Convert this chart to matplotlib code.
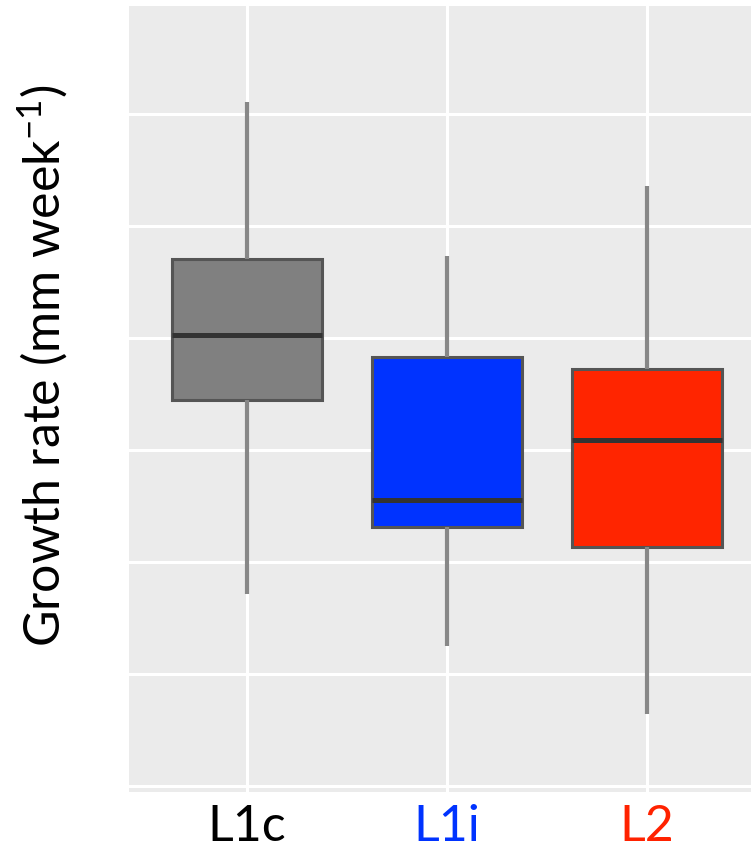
import matplotlib.pyplot as plt

plt.rcParams["font.family"] = ["Lato", "DejaVu Sans"]
plt.rcParams["mathtext.fontset"] = "custom"
plt.rcParams["mathtext.rm"] = "Lato"
plt.rcParams["mathtext.it"] = "Lato:italic"

# Summary statistics per lineage (growth rate, mm per week)
lineages = ["L1c", "L1i", "L2"]
whisker_high = [6.10, 4.73, 5.35]
upper_quartile = [4.70, 3.83, 3.72]
medians = [4.02, 2.55, 3.09]
lower_quartile = [3.44, 2.31, 2.13]
whisker_low = [1.71, 1.25, 0.64]

fill_colors = ["#808080", "#0033ff", "#ff2500"]
label_colors = ["#000000", "#0033ff", "#ff2200"]

stats = []
for name, hi, q3, med, q1, lo in zip(lineages, whisker_high, upper_quartile,
                                     medians, lower_quartile, whisker_low):
    stats.append({"label": name, "whishi": hi, "q3": q3, "med": med,
                  "q1": q1, "whislo": lo, "fliers": []})

fig = plt.figure(figsize=(7.51, 8.53), dpi=100)
ax = fig.add_axes([129 / 751, 1 - 793 / 853, 1 - 129 / 751, (793 - 7) / 853])
ax.set_facecolor("#ebebeb")

bp = ax.bxp(
    stats,
    positions=[1, 2, 3],
    widths=0.75,
    patch_artist=True,
    showcaps=False,
    boxprops=dict(edgecolor="#555555", linewidth=2.2),
    medianprops=dict(color="#333333", linewidth=3.6, solid_capstyle="butt"),
    whiskerprops=dict(color="#878787", linewidth=3.0, solid_capstyle="butt"),
    zorder=3,
)
for box, color in zip(bp["boxes"], fill_colors):
    box.set_facecolor(color)

ax.set_xlim(0.41, 3.52)
ax.set_ylim(-0.054, 6.96)
ax.set_yticks(range(0, 7))
ax.set_yticklabels([])
ax.set_xticks([1, 2, 3])
ax.set_xticklabels(lineages, fontsize=36)
for lbl, color in zip(ax.get_xticklabels(), label_colors):
    lbl.set_color(color)
ax.tick_params(length=0, pad=8)

ax.grid(True, color="white", linewidth=2.2, zorder=0)
ax.set_axisbelow(True)
for spine in ax.spines.values():
    spine.set_visible(False)

fig.text(0.057, 0.571, "Growth rate (mm week$^{\\mathrm{-1}}$)", rotation=90,
         fontsize=36, ha="center", va="center")

fig.savefig("out.png", dpi=100)
